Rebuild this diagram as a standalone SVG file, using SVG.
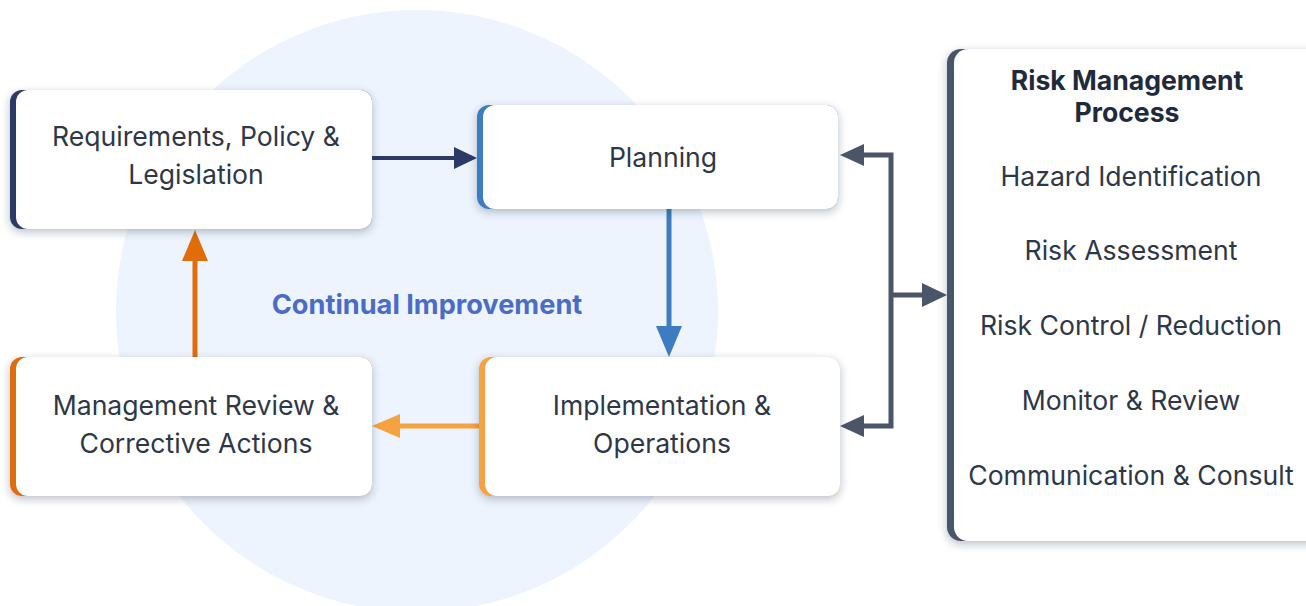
<svg xmlns="http://www.w3.org/2000/svg" width="1306" height="606" viewBox="0 0 1306 606">
<style>
.t{font-family:Inter,"Noto Sans","Liberation Sans",sans-serif;font-size:26.6px;fill:#2D3748;text-anchor:middle}
.b{font-weight:700}
.box{fill:#fff}
</style>
<defs>
<filter id="sh" x="-20%" y="-30%" width="140%" height="160%">
<feDropShadow dx="0" dy="3" stdDeviation="4" flood-color="#1a2540" flood-opacity="0.3"/>
</filter>
</defs>
<rect width="1306" height="606" fill="#fff"/>
<circle cx="417" cy="311" r="301" fill="#EEF4FD"/>
<text class="t b" x="427" y="314" style="fill:#4A6BC8;font-size:27.2px">Continual Improvement</text>

<g id="connectors">
<line x1="372" y1="158" x2="456" y2="158" stroke="#2B3A67" stroke-width="4"/>
<path d="M454 147L477 158L454 169z" fill="#2B3A67"/>
<line x1="669" y1="209" x2="669" y2="330" stroke="#3D7CC0" stroke-width="5"/>
<path d="M656 326L669 357L682 326z" fill="#3D7CC0"/>
<line x1="479" y1="426" x2="398" y2="426" stroke="#F6A240" stroke-width="5"/>
<path d="M400 414L372 426L400 438z" fill="#F6A240"/>
<line x1="195" y1="357" x2="195" y2="258" stroke="#E06C0A" stroke-width="5"/>
<path d="M182 261L195 230L208 261z" fill="#E06C0A"/>
<polyline points="862,155 891,155 891,426 862,426" fill="none" stroke="#4A5568" stroke-width="5"/>
<path d="M864 144L840 155L864 166z" fill="#4A5568"/>
<path d="M864 415L840 426L864 437z" fill="#4A5568"/>
<line x1="891" y1="295" x2="924" y2="295" stroke="#4A5568" stroke-width="5"/>
<path d="M922 283L947 295L922 307z" fill="#4A5568"/>
</g>

<g id="n1">
<rect x="10" y="90" width="362" height="139" rx="12" fill="#2B3A67" filter="url(#sh)"/>
<rect x="16" y="90" width="356" height="139" rx="12" class="box"/>
<text class="t" x="196" y="146">Requirements, Policy &amp;</text>
<text class="t" x="196" y="184">Legislation</text>
</g>
<g id="n2">
<rect x="477" y="105" width="361" height="104" rx="12" fill="#3D7CC0" filter="url(#sh)"/>
<rect x="483" y="105" width="355" height="104" rx="12" class="box"/>
<text class="t" x="663" y="167">Planning</text>
</g>
<g id="n3">
<rect x="479" y="357" width="361" height="139" rx="12" fill="#F6A240" filter="url(#sh)"/>
<rect x="485" y="357" width="355" height="139" rx="12" class="box"/>
<text class="t" x="662" y="415">Implementation &amp;</text>
<text class="t" x="662" y="453">Operations</text>
</g>
<g id="n4">
<rect x="10" y="357" width="362" height="139" rx="12" fill="#E06C0A" filter="url(#sh)"/>
<rect x="16" y="357" width="356" height="139" rx="12" class="box"/>
<text class="t" x="196" y="415">Management Review &amp;</text>
<text class="t" x="196" y="453">Corrective Actions</text>
</g>
<g id="n5">
<rect x="947" y="49" width="380" height="492" rx="14" fill="#4A5568" filter="url(#sh)"/>
<rect x="954" y="49" width="373" height="492" rx="14" class="box"/>
<text class="t b" x="1127" y="90" style="fill:#1F2A3C">Risk Management</text>
<text class="t b" x="1127" y="122" style="fill:#1F2A3C">Process</text>
<text class="t" x="1131" y="186">Hazard Identification</text>
<text class="t" x="1131" y="260">Risk Assessment</text>
<text class="t" x="1131" y="335">Risk Control / Reduction</text>
<text class="t" x="1131" y="410">Monitor &amp; Review</text>
<text class="t" x="1131" y="485">Communication &amp; Consult</text>
</g>
</svg>
